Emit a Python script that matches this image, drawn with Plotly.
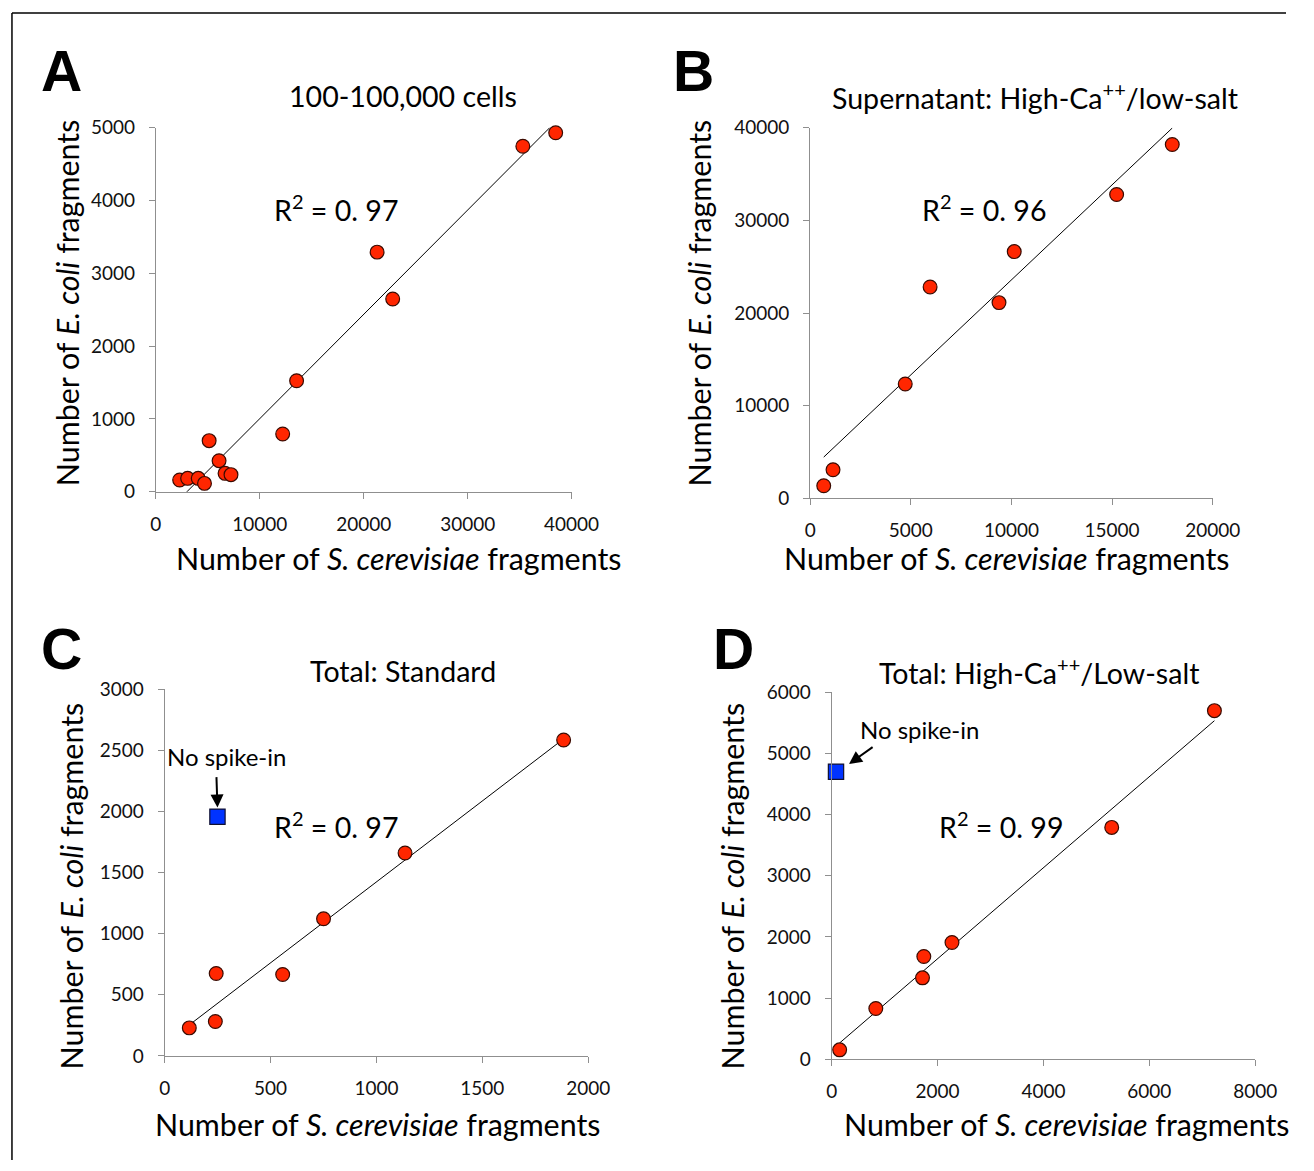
import numpy as np
import plotly.graph_objects as go

W, H = 1314, 1171

# ---------------- data ----------------
# Panel A: 100-100,000 cells
a_x = [38470, 35310, 21290, 22790, 13545, 12206, 5131, 6087, 6661, 7234, 2295, 3060, 4079, 4685]
a_y = [4932, 4748, 3292, 2647, 1525, 792, 701, 426, 252, 234, 160, 183, 183, 114]
# Panel B: Supernatant High-Ca++/low-salt
b_x = [17990, 15226, 10139, 9382, 5959, 4724, 1136, 675]
b_y = [38196, 32796, 26640, 21132, 22824, 12348, 3096, 1368]
# Panel C: Total Standard
c_x = [1884, 1135, 750, 557, 243, 239, 116]
c_y = [2583, 1659, 1121, 666, 674, 281, 229]
c_nospike_x = [249]
c_nospike_y = [1956]
# Panel D: Total High-Ca++/Low-salt
d_x = [7230, 5290, 2272, 1740, 1715, 833, 150]
d_y = [5702, 3792, 1910, 1680, 1331, 829, 153]
d_nospike_x = [81]
d_nospike_y = [4703]

titles = ["100-100,000 cells",
          "Supernatant: High-Ca<sup>++</sup>/low-salt",
          "Total: Standard",
          "Total: High-Ca<sup>++</sup>/Low-salt"]
panel_letters = ["A", "B", "C", "D"]
r2_labels = ["R<sup>2</sup> = 0. 97", "R<sup>2</sup> = 0. 96", "R<sup>2</sup> = 0. 97", "R<sup>2</sup> = 0. 99"]
x_ranges = [[0, 40000], [0, 20000], [0, 2000], [0, 8000]]
x_dticks = [10000, 5000, 500, 2000]
y_ranges = [[0, 5000], [0, 40000], [0, 3000], [0, 6000]]
y_dticks = [1000, 10000, 500, 1000]
xlabel = "Number of <i>S. cerevisiae</i> fragments"
ylabel = "Number of <i>E. coli</i> fragments"

# ---------------- layout geometry ----------------
# target positions are given in picture pixels; the photographed page is
# slightly scaled/offset, so map picture pixels back to page pixels.
S = 0.98
OX, OY = 1.0, 11.5

def px(x):
    return ((x - OX) / S) / W

def py(y):
    return 1 - ((y - OY) / S) / H

def fs(size):
    return size / S

# plot areas: (left, right, top, bottom) in picture pixels
boxes = [(151.7, 570.0, 127.3, 491.0),
         (810.0, 1215.0, 127.3, 497.7),
         (160.7, 586.7, 688.3, 1055.0),
         (831.7, 1257.7, 691.7, 1058.3)]

FONT = "Lato, 'Open Sans', sans-serif"
RED = "rgb(255,38,0)"
BLUE = "rgb(0,51,255)"
AXC = "#8f8f8f"

fig = go.Figure()

series = [(a_x, a_y), (b_x, b_y), (c_x, c_y), (d_x, d_y)]
for i, (xs, ys) in enumerate(series):
    n = i + 1
    xa = "x" if n == 1 else f"x{n}"
    ya = "y" if n == 1 else f"y{n}"
    xs_arr = np.array(xs, float)
    ys_arr = np.array(ys, float)
    k, b = np.polyfit(xs_arr, ys_arr, 1)
    lx = np.array([xs_arr.min(), xs_arr.max()])
    fig.add_trace(go.Scatter(x=lx, y=k * lx + b, mode="lines",
                             line=dict(color="black", width=1),
                             xaxis=xa, yaxis=ya, showlegend=False, hoverinfo="skip"))
    fig.add_trace(go.Scatter(x=xs, y=ys, mode="markers",
                             marker=dict(color=RED, size=fs(13.5), line=dict(color="#3a0a00", width=1.2)),
                             xaxis=xa, yaxis=ya, showlegend=False, cliponaxis=False))

fig.add_trace(go.Scatter(x=c_nospike_x, y=c_nospike_y, mode="markers",
                         marker=dict(color=BLUE, size=fs(15), symbol="square",
                                     line=dict(color="#101030", width=1.2)),
                         xaxis="x3", yaxis="y3", showlegend=False))
fig.add_trace(go.Scatter(x=d_nospike_x, y=d_nospike_y, mode="markers",
                         marker=dict(color=BLUE, size=fs(15), symbol="square",
                                     line=dict(color="#101030", width=1.2)),
                         xaxis="x4", yaxis="y4", showlegend=False, cliponaxis=False))

layout = dict(width=W, height=H, margin=dict(l=0, r=0, t=0, b=0, pad=0),
              paper_bgcolor="white", plot_bgcolor="white",
              font=dict(family=FONT, color="black"))

for i, (l, r, t, bt) in enumerate(boxes):
    n = i + 1
    kx = "xaxis" if n == 1 else f"xaxis{n}"
    ky = "yaxis" if n == 1 else f"yaxis{n}"
    common = dict(showgrid=False, zeroline=False, showline=True, linecolor=AXC, linewidth=1.2,
                  ticks="outside", ticklen=6, tickcolor=AXC, tickwidth=1.2,
                  tickfont=dict(family=FONT, size=fs(18.6), color="#111"),
                  tickformat="d", fixedrange=True)
    layout[kx] = dict(domain=[px(l), px(r)], range=x_ranges[i], dtick=x_dticks[i], tick0=0,
                      anchor="y" if n == 1 else f"y{n}", ticklabelstandoff=9, **common)
    layout[ky] = dict(domain=[py(bt), py(t)], range=y_ranges[i], dtick=y_dticks[i], tick0=0,
                      anchor="x" if n == 1 else f"x{n}", ticklabelstandoff=10, **common)

fig.update_layout(**layout)

ann = []
def text(x, y, s, size, family=FONT, **kw):
    d = dict(x=px(x), y=py(y), xref="paper", yref="paper", text=s, showarrow=False,
             xanchor="center", yanchor="middle",
             font=dict(family=family, size=fs(size), color="black"))
    d.update(kw)
    ann.append(d)

# panel letters
for (x, y), s in zip([(57, 70), (693, 70), (57, 648), (733, 648)], panel_letters):
    text(x, y, "<b>" + s + "</b>", 56, family="Liberation Sans, Arial, sans-serif")
# titles
for (x, y), s in zip([(400, 95), (1036, 95), (400, 670), (1040, 670)], titles):
    text(x, y, s, 28)
# x-axis titles
for (x, y) in [(396, 557), (1008, 557), (375, 1123), (1068, 1123)]:
    text(x, y, xlabel, 29.8)
# y-axis titles
for (x, y) in [(62, 302), (698, 302), (66, 885), (731, 885)]:
    text(x, y, ylabel, 29.8, textangle=-90)
# R^2
for (x, y), s in zip([(333, 207), (985, 207), (333, 824), (1002, 824)], r2_labels):
    text(x, y, s, 28)
# No spike-in
text(223, 756, "No spike-in", 23.5)
text(919.7, 729, "No spike-in", 23.5)

# arrows (data coords)
ann.append(dict(x=249, y=2032, ax=244, ay=2292, xref="x3", yref="y3", axref="x3", ayref="y3",
                text="", showarrow=True, arrowhead=2, arrowsize=1.3, arrowwidth=2, arrowcolor="black"))
ann.append(dict(x=326, y=4829, ax=801, ay=5123, xref="x4", yref="y4", axref="x4", ayref="y4",
                text="", showarrow=True, arrowhead=2, arrowsize=1.3, arrowwidth=2, arrowcolor="black"))

fig.update_layout(annotations=ann)

# outer frame (top and left edges)
top_y = min(py(11.5), 1 - 1.0 / H)
fig.add_shape(type="line", xref="paper", yref="paper", x0=px(7), x1=1, y0=top_y, y1=top_y,
              line=dict(color="black", width=1.5))
fig.add_shape(type="line", xref="paper", yref="paper", x0=px(7), x1=px(7), y0=top_y, y1=0,
              line=dict(color="black", width=1.5))

post = ("document.documentElement.style.margin='0';document.body.style.margin='0';")
fig.write_html("out.html", config={"displayModeBar": False}, post_script=post)
